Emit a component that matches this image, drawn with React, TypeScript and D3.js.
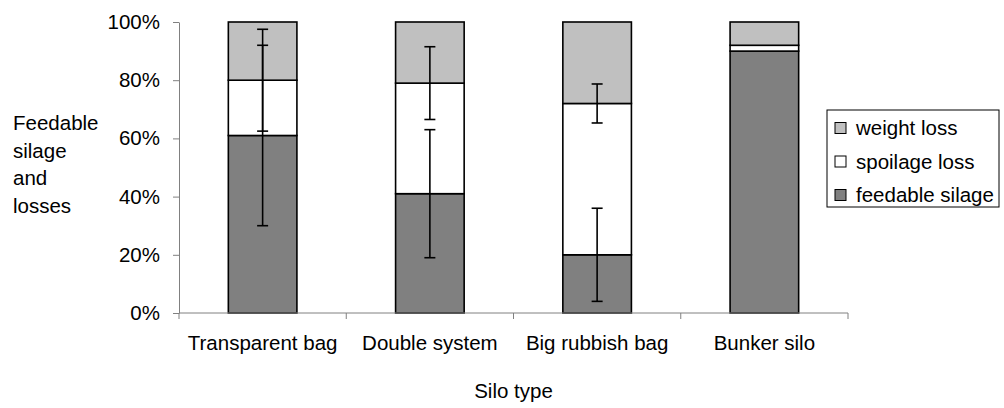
import * as d3 from 'd3';
import React, { useRef, useEffect } from 'react';

// data
const categories = ['Transparent bag', 'Double system', 'Big rubbish bag', 'Bunker silo'];
const feedable = [61, 41, 20, 90];
const spoilage = [19, 38, 52, 2];
const weight = [20, 21, 28, 8];
const feedableErr = [31, 22, 16, 0];
const spoilageErr = [17.5, 12.5, 6.7, 0];
const yTicks = [0, 20, 40, 60, 80, 100];
const seriesNames = ['feedable silage', 'spoilage loss', 'weight loss'];
const seriesColors = ['#808080', '#ffffff', '#c0c0c0'];

const W = 1004;
const H = 408;
const FONT = 'Liberation Sans, Arial, sans-serif';
const FS = 20.5;

function App() {
    const ref = useRef<SVGSVGElement>(null);

    useEffect(() => {
        const svg = d3.select(ref.current);
        svg.selectAll('*').remove();

        const margin = { top: 22, left: 179, right: 156, bottom: 95 };
        const rows = categories.map((c, i) => ({
            cat: c,
            feedable: feedable[i],
            spoilage: spoilage[i],
            weight: weight[i],
        }));
        const keys = ['feedable', 'spoilage', 'weight'];

        const x = d3.scaleBand().domain(categories).range([margin.left, W - margin.right]).padding(0);
        const y = d3.scaleLinear().domain([0, 100]).range([H - margin.bottom, margin.top]);
        const barW = x.bandwidth() * 0.41;

        const stacked = d3.stack<any>().keys(keys)(rows);

        // bars
        svg.append('g')
            .selectAll('g')
            .data(stacked)
            .enter()
            .append('g')
            .attr('fill', (d, i) => seriesColors[i])
            .selectAll('rect')
            .data(d => d)
            .enter()
            .append('rect')
            .attr('x', d => x(d.data.cat)! + (x.bandwidth() - barW) / 2)
            .attr('y', d => y(d[1]))
            .attr('width', barW)
            .attr('height', d => y(d[0]) - y(d[1]))
            .attr('stroke', '#000')
            .attr('stroke-width', 1.6);

        // error bars
        const errs: { cat: string; v: number; e: number }[] = [];
        categories.forEach((c, i) => {
            if (feedableErr[i] > 0) errs.push({ cat: c, v: feedable[i], e: feedableErr[i] });
            if (spoilageErr[i] > 0) errs.push({ cat: c, v: feedable[i] + spoilage[i], e: spoilageErr[i] });
        });
        const eg = svg.append('g').attr('stroke', '#000').attr('stroke-width', 1.6);
        errs.forEach(d => {
            const cx = x(d.cat)! + x.bandwidth() / 2;
            eg.append('line').attr('x1', cx).attr('x2', cx).attr('y1', y(d.v - d.e)).attr('y2', y(d.v + d.e));
            [d.v - d.e, d.v + d.e].forEach(v => {
                eg.append('line').attr('x1', cx - 5.5).attr('x2', cx + 5.5).attr('y1', y(v)).attr('y2', y(v));
            });
        });

        // y axis
        const yAxis = svg.append('g')
            .attr('transform', `translate(${margin.left},0)`)
            .call(d3.axisLeft(y).tickValues(yTicks).tickSize(6).tickSizeOuter(0).tickFormat(d => d + '%'));
        yAxis.select('.domain').attr('stroke', '#808080');
        yAxis.selectAll('.tick line').attr('stroke', '#808080');
        yAxis.selectAll('text')
            .attr('font-family', FONT)
            .attr('font-size', FS)
            .attr('fill', '#000')
            .attr('x', -19);

        // x axis
        const xg = svg.append('g').attr('stroke', '#808080');
        xg.append('line')
            .attr('x1', margin.left).attr('x2', W - margin.right)
            .attr('y1', y(0)).attr('y2', y(0));
        const bounds = categories.map(c => x(c)!).concat([W - margin.right]);
        bounds.forEach(b => {
            xg.append('line').attr('x1', b).attr('x2', b).attr('y1', y(0)).attr('y2', y(0) + 6);
        });
        svg.append('g')
            .selectAll('text')
            .data(categories)
            .enter()
            .append('text')
            .attr('x', d => x(d)! + x.bandwidth() / 2)
            .attr('y', 350)
            .attr('text-anchor', 'middle')
            .attr('font-family', FONT)
            .attr('font-size', FS)
            .text(d => d);

        // axis titles
        svg.append('text')
            .attr('x', (margin.left + W - margin.right) / 2)
            .attr('y', 398)
            .attr('text-anchor', 'middle')
            .attr('font-family', FONT)
            .attr('font-size', FS)
            .text('Silo type');

        const yt = svg.append('text')
            .attr('font-family', FONT)
            .attr('font-size', FS);
        ['Feedable', 'silage', 'and', 'losses'].forEach((t, i) => {
            yt.append('tspan').attr('x', 13).attr('y', 130 + i * 27.5).text(t);
        });

        // legend
        const lg = svg.append('g').attr('transform', 'translate(827,110)');
        lg.append('rect')
            .attr('width', 172).attr('height', 97)
            .attr('fill', '#fff').attr('stroke', '#000').attr('stroke-width', 1);
        const legendOrder = [2, 1, 0];
        legendOrder.forEach((s, i) => {
            const cy = 18 + i * 33.5;
            lg.append('rect')
                .attr('x', 8).attr('y', cy - 5.5)
                .attr('width', 11).attr('height', 11)
                .attr('fill', seriesColors[s]).attr('stroke', '#000').attr('stroke-width', 1);
            lg.append('text')
                .attr('x', 29).attr('y', cy + 7)
                .attr('font-family', FONT)
                .attr('font-size', FS)
                .text(seriesNames[s]);
        });
    }, []);

    return (
        <svg ref={ref} width={W} height={H}
            style={{ position: 'absolute', left: 0, top: 0, background: '#fff' }} />
    );
}

export default App;
